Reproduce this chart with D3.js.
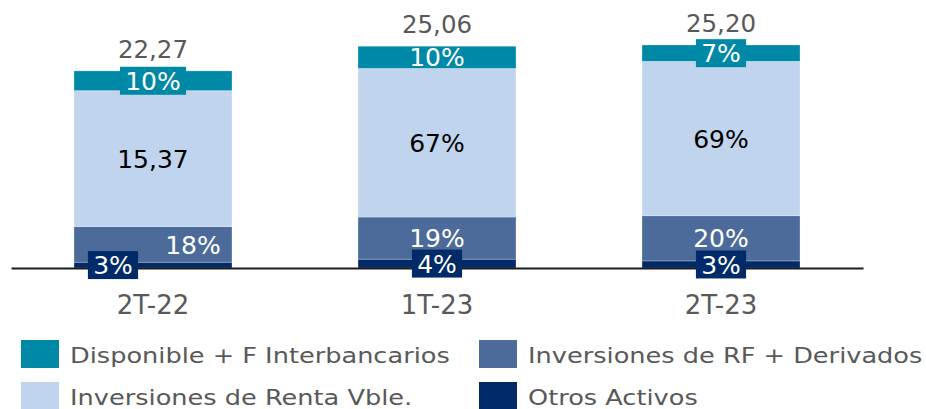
<!DOCTYPE html>
<html lang="es">
<head>
<meta charset="utf-8">
<script src="https://cdn.jsdelivr.net/npm/d3@7/dist/d3.min.js"></script>
<style>
  html, body { margin: 0; padding: 0; background: #ffffff; }
  svg { display: block; }
  text { font-family: "DejaVu Sans", sans-serif; }
</style>
</head>
<body>
<svg id="chart" width="926" height="409"></svg>
<script>
// Activos por trimestre (valores absolutos)
const categories  = ["2T-22", "1T-23", "2T-23"];
const disponible  = [2.23, 2.51, 1.85];
const rentaVble   = [15.37, 16.79, 17.45];
const rfDerivados = [4.01, 4.76, 5.10];
const otros       = [0.66, 1.00, 0.80];
// Cómo se rotula el tramo de renta variable en cada trimestre
const rentaLabelAs = ["value", "pct", "pct"];

const seriesNames = {
  disponible: "Disponible + F Interbancarios",
  rf: "Inversiones de RF + Derivados",
  renta: "Inversiones de Renta Vble.",
  otros: "Otros Activos"
};
const colors = {
  disponible: "#0089A7",
  rf: "#4C6B9B",
  renta: "#C0D4ED",
  otros: "#002A68"
};
const labelColors = { disponible: "#ffffff", rf: "#ffffff", renta: "#000000", otros: "#ffffff" };

// Desplazamientos horizontales de etiquetas para evitar solapes
const labelNudge = { "2T-22": { otros: -40, rf: 40 } };

const rows = categories.map((c, i) => ({
  cat: c,
  otros: otros[i],
  rf: rfDerivados[i],
  renta: rentaVble[i],
  disponible: disponible[i]
}));
const keys = ["otros", "rf", "renta", "disponible"];

const svg = d3.select("#chart");
const baseY = 268;

const x = d3.scaleBand()
  .domain(categories)
  .range([11, 863])
  .paddingInner(0.4437)
  .paddingOuter(0.2218);

const y = d3.scaleLinear()
  .domain([0, 30])
  .range([baseY, baseY - 265.5]);

const stack = d3.stack().keys(keys)(rows);

const fmtNum = d3.formatLocale({ decimal: ",", thousands: ".", grouping: [3], currency: ["", ""] }).format(".2f");
const fmtPct = v => Math.round(v * 100) + "%";

// Tramos apilados
const layers = svg.append("g")
  .selectAll("g")
  .data(stack)
  .join("g")
  .attr("fill", d => colors[d.key]);

layers.selectAll("rect")
  .data(d => d.map(p => ({ key: d.key, p })))
  .join("rect")
  .attr("x", d => x(d.p.data.cat))
  .attr("width", x.bandwidth())
  .attr("y", d => y(d.p[1]))
  .attr("height", d => y(d.p[0]) - y(d.p[1]))
  .attr("stroke", "#ffffff")
  .attr("stroke-width", 0.6)
  .attr("stroke-opacity", 0.45);

// Eje de categorías
const axis = svg.append("g")
  .attr("transform", `translate(0,${baseY})`)
  .call(d3.axisBottom(x).tickSize(0));
axis.select(".domain").attr("stroke", "#1c1c1c").attr("stroke-width", 2);
axis.selectAll(".tick text")
  .attr("y", 46)
  .attr("dy", 0)
  .attr("fill", "#595959")
  .style("font-family", "'DejaVu Sans', sans-serif")
  .style("font-size", "26px");

// Etiquetas de cada tramo
const labelSize = 25;
const capH = 0.729 * labelSize;
const labelG = svg.append("g");

stack.forEach(layer => {
  layer.forEach((p, i) => {
    const key = layer.key;
    const cat = p.data.cat;
    const total = keys.reduce((s, k) => s + p.data[k], 0);
    const val = p[1] - p[0];
    const text = (key === "renta" && rentaLabelAs[i] === "value") ? fmtNum(val) : fmtPct(val / total);
    const nudge = (labelNudge[cat] && labelNudge[cat][key]) || 0;
    const cx = x(cat) + x.bandwidth() / 2 + nudge;
    const cy = (y(p[0]) + y(p[1])) / 2;
    const segH = y(p[0]) - y(p[1]);

    const g = labelG.append("g");
    const t = g.append("text")
      .attr("x", cx)
      .attr("y", cy + capH / 2)
      .attr("text-anchor", "middle")
      .attr("fill", labelColors[key])
      .style("font-size", labelSize + "px")
      .text(text);

    if (key !== "renta" && segH < 20) {
      const w = t.node().getComputedTextLength() + 10.5;
      g.insert("rect", "text")
        .attr("x", cx - w / 2)
        .attr("y", cy - 14)
        .attr("width", w)
        .attr("height", 28)
        .attr("fill", colors[key]);
    }
  });
});

// Totales sobre cada barra
svg.append("g")
  .selectAll("text")
  .data(rows)
  .join("text")
  .attr("x", d => x(d.cat) + x.bandwidth() / 2)
  .attr("y", d => y(keys.reduce((s, k) => s + d[k], 0)) - 13)
  .attr("text-anchor", "middle")
  .attr("fill", "#595959")
  .style("font-size", "24.5px")
  .text(d => fmtNum(keys.reduce((s, k) => s + d[k], 0)));

// Leyenda
const legendItems = [
  { key: "disponible", col: 0, row: 0 },
  { key: "rf", col: 1, row: 0 },
  { key: "renta", col: 0, row: 1 },
  { key: "otros", col: 1, row: 1 }
];
const legendX = [21, 479];
const legendY = [340, 382];
const legend = svg.append("g")
  .selectAll("g")
  .data(legendItems)
  .join("g")
  .attr("transform", d => `translate(${legendX[d.col]},${legendY[d.row]})`);

legend.append("rect")
  .attr("width", 38)
  .attr("height", 28)
  .attr("fill", d => colors[d.key]);

legend.append("text")
  .attr("transform", "translate(49,23) scale(1.22,1)")
  .attr("fill", "#595959")
  .style("font-size", "21px")
  .text(d => seriesNames[d.key]);
</script>
</body>
</html>
